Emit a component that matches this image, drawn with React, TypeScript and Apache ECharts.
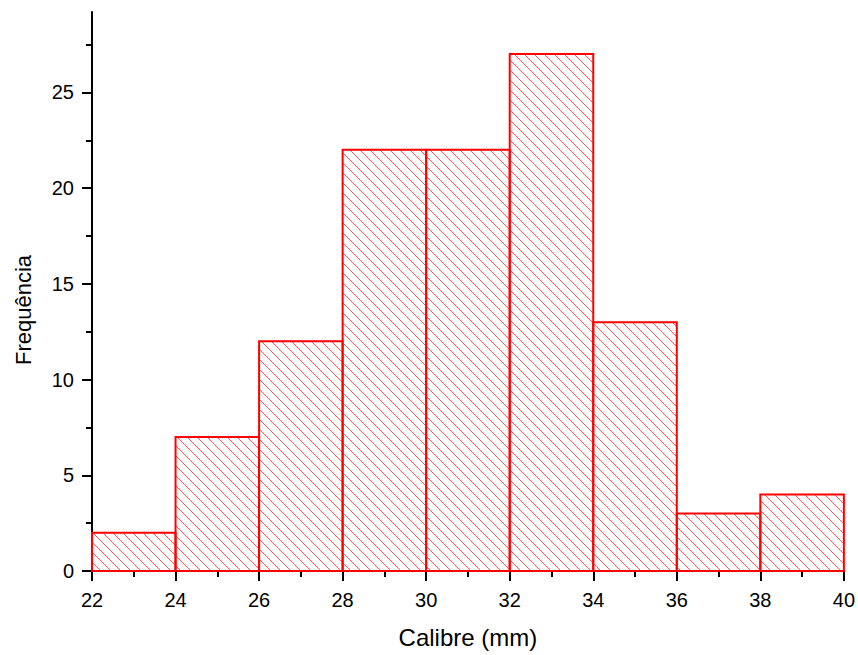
import React, { useEffect, useRef } from "react";
import * as echarts from "echarts";

const binStarts = [22, 24, 26, 28, 30, 32, 34, 36, 38];
const binEnds = [24, 26, 28, 30, 32, 34, 36, 38, 40];
const frequencies = [2, 7, 12, 22, 22, 27, 13, 3, 4];
const yMajorTicks = [0, 5, 10, 15, 20, 25];
const yMinorTicks = [2.5, 7.5, 12.5, 17.5, 22.5, 27.5];
const xTitle = "Calibre (mm)";
const yTitle = "Frequência";

const FONT = "'Liberation Sans', Arial, sans-serif";

export default function App() {
  const ref = useRef<HTMLDivElement>(null);
  useEffect(() => {
    if (!ref.current) return;
    const chart = echarts.init(ref.current, null, { renderer: "svg" });
    const data = binStarts.map((s, i) => [s, binEnds[i], frequencies[i]]);
    const spacing = 10;
    const option: any = {
      animation: false,
      grid: { left: 92, right: 14, top: 12, bottom: 84 },
      xAxis: {
        type: "value",
        min: 22,
        max: 40,
        interval: 2,
        axisLine: { show: true, onZero: false, lineStyle: { color: "#000", width: 2 } },
        axisTick: { show: true, inside: false, length: 10, lineStyle: { color: "#000", width: 2 } },
        minorTick: { show: true, splitNumber: 2, length: 6, lineStyle: { color: "#000", width: 2 } },
        splitLine: { show: false },
        axisLabel: { color: "#000", fontSize: 20, fontFamily: FONT, margin: 19 },
        name: xTitle,
        nameLocation: "middle",
        nameGap: 54,
        nameTextStyle: { color: "#000", fontSize: 24, fontFamily: FONT },
      },
      yAxis: [
        {
          type: "value",
          min: 0,
          max: 29.2,
          interval: 5,
          axisLine: { show: true, onZero: false, lineStyle: { color: "#000", width: 2 } },
          axisTick: { show: true, inside: false, length: 10, customValues: yMajorTicks, lineStyle: { color: "#000", width: 2 } },
          splitLine: { show: false },
          axisLabel: { color: "#000", fontSize: 20, fontFamily: FONT, margin: 18, customValues: yMajorTicks },
        },
        {
          type: "value",
          min: 0,
          max: 29.2,
          position: "left",
          axisLine: { show: false },
          axisTick: { show: true, inside: false, length: 6, customValues: yMinorTicks, lineStyle: { color: "#000", width: 2 } },
          splitLine: { show: false },
          axisLabel: { show: false },
        },
      ],
      graphic: [
        {
          type: "text",
          x: 23,
          y: 310,
          rotation: Math.PI / 2,
          style: {
            text: yTitle,
            fill: "#000",
            fontSize: 22,
            fontFamily: FONT,
            align: "center",
            verticalAlign: "middle",
          },
        },
      ],
      series: [
        {
          type: "custom",
          coordinateSystem: "cartesian2d",
          yAxisIndex: 0,
          data,
          encode: { x: [0, 1], y: 2 },
          renderItem: (params: any, api: any) => {
            const s = api.value(0);
            const e = api.value(1);
            const v = api.value(2);
            const p0 = api.coord([s, 0]);
            const p1 = api.coord([e, v]);
            const x0 = p0[0];
            const x1 = p1[0];
            const y0 = p1[1];
            const y1 = p0[1];
            const children: any[] = [];
            const cMin = Math.ceil((y0 - x1) / spacing) * spacing;
            const cMax = y1 - x0;
            for (let c = cMin; c <= cMax; c += spacing) {
              const xs = Math.max(x0, y0 - c);
              const xe = Math.min(x1, y1 - c);
              if (xe - xs > 0.5) {
                children.push({
                  type: "line",
                  shape: { x1: xs, y1: xs + c, x2: xe, y2: xe + c },
                  style: { stroke: "#ff2a2a", lineWidth: 1, opacity: 0.8 },
                });
              }
            }
            children.push({
              type: "rect",
              shape: { x: x0, y: y0, width: x1 - x0, height: y1 - y0 },
              style: { fill: "none", stroke: "#ff0000", lineWidth: 2 },
            });
            return { type: "group", children };
          },
        },
      ],
    };
    chart.setOption(option);
    return () => chart.dispose();
  }, []);
  return (
    <div
      ref={ref}
      style={{ position: "fixed", left: 0, top: 0, width: 858, height: 655, background: "#fff" }}
    />
  );
}
